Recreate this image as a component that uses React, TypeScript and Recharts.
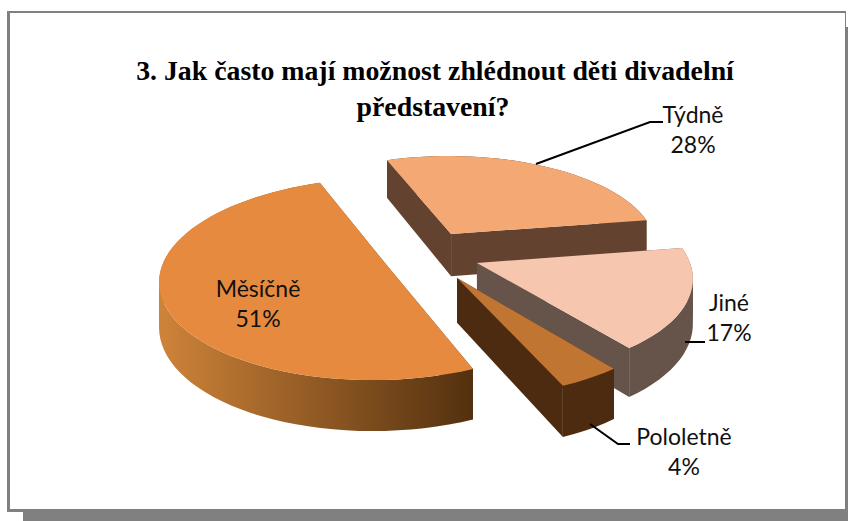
import React from 'react';
import { PieChart, Pie, Cell } from 'recharts';

const CATEGORIES = ['Týdně', 'Jiné', 'Pololetně', 'Měsíčně'];
const SHARES = [28, 17, 4, 51];
const TOP_COLORS = ['#f4a874', '#f6c7ae', '#c07532', '#e58a3f'];
const WALL_COLORS = ['#634330', '#66534a', '#4c2b11', 'url(#monthlyWall)'];

// how far each slice is pulled out of the pie, in radius units
const EXPLODE_X = [0.101, 0.216, 0.122, -0.228];
const EXPLODE_Y = [-0.327, -0.02, 0.129, 0.003];
const RADIUS_SCALE = [0.97, 0.98, 1, 1];
// the big slice has a straight cut in the picture, push its tip onto the chord
const APEX_NUDGE = [0, 0, 0, 0.03];

// label layout: text centre, first line y, then the leader line
const LABEL_X = [693, 729, 684, 258];
const LABEL_Y = [123, 311, 445, 297];
const LEADERS = [
  '536,164 650,122 663,122',
  '685,342 705,342',
  '590,424 618,444 630,444',
  '',
];

const TILT = 0.454;
const PERSPECTIVE = 0.137;
const THICKNESS = 44;

// Pie has no 3D mode, so project the sector angles by hand
const SliceShape = (props: any) => {
  const { cx, cy, outerRadius, startAngle, endAngle, index } = props;
  const project = (wx: number, wy: number, z: number) => {
    const s = 1 / (1 - PERSPECTIVE * wy);
    return [cx + outerRadius * wx * s, cy + (outerRadius * TILT * wy + z) * s];
  };
  const ox = EXPLODE_X[index];
  const oy = EXPLODE_Y[index];
  const r = RADIUS_SCALE[index];
  const arc: [number, number][] = [];
  const steps = Math.max(4, Math.ceil(Math.abs(endAngle - startAngle) / 3));
  for (let i = 0; i <= steps; i++) {
    const deg = startAngle + ((endAngle - startAngle) * i) / steps;
    const rad = (deg * Math.PI) / 180;
    arc.push([ox + r * Math.cos(rad), oy - r * Math.sin(rad)]);
  }
  const str = (pts: number[][]) => pts.map((q) => q.join(',')).join(' ');
  const topArc = arc.map(([x, y]) => project(x, y, 0));
  const lowArc = arc.map(([x, y]) => project(x, y, THICKNESS));
  const apexTop = project(ox + APEX_NUDGE[index], oy, 0);
  const apexLow = project(ox + APEX_NUDGE[index], oy, THICKNESS);
  const wall = WALL_COLORS[index];

  // split the curved wall at the left and right silhouette so no band crosses itself
  const xs = topArc.map((p) => p[0]);
  const cuts = Array.from(new Set([0, xs.indexOf(Math.min(...xs)), xs.indexOf(Math.max(...xs)), steps])).sort((a, b) => a - b);
  const bands = cuts.slice(1).map((end, i) => {
    const a = topArc.slice(cuts[i], end + 1);
    const b = lowArc.slice(cuts[i], end + 1).reverse();
    return str([...a, ...b]);
  });

  return (
    <g>
      <polygon points={str([apexTop, topArc[0], lowArc[0], apexLow])} fill={wall} />
      <polygon points={str([apexTop, topArc[steps], lowArc[steps], apexLow])} fill={wall} />
      {bands.map((pts, i) => (
        <polygon key={i} points={pts} fill={wall} />
      ))}
      <polygon points={str([apexTop, ...topArc])} fill={TOP_COLORS[index]} />
    </g>
  );
};

const SliceLabel = ({ index }: any) => (
  <g>
    {LEADERS[index] && <polyline points={LEADERS[index]} fill="none" stroke="#000" strokeWidth={2} />}
    <text x={LABEL_X[index]} y={LABEL_Y[index]} textAnchor="middle" fontFamily="Lato, sans-serif" fontSize={23} fill="#111">
      {CATEGORIES[index]}
    </text>
    <text x={LABEL_X[index]} y={LABEL_Y[index] + 30} textAnchor="middle" fontFamily="Lato, sans-serif" fontSize={23} fill="#111">
      {SHARES[index]}%
    </text>
  </g>
);

const data = CATEGORIES.map((name, i) => ({ name, value: SHARES[i] }));

export default function App() {
  return (
    <div style={{ position: 'absolute', left: 0, top: 0, width: 848, height: 521, background: '#fff', overflow: 'hidden' }}>
      <div style={{ position: 'absolute', left: 23, top: 27, width: 825, height: 494, background: '#808080' }} />
      <div
        style={{
          position: 'absolute',
          left: 7,
          top: 11,
          width: 835,
          height: 496,
          background: '#fff',
          borderStyle: 'solid',
          borderColor: '#808080',
          borderWidth: '2px 1px 3px 3px',
        }}
      />
      <div style={{ position: 'absolute', left: 0, top: 0 }}>
        <PieChart width={848} height={521} margin={{ top: 0, right: 0, bottom: 0, left: 0 }}>
          <defs>
            <linearGradient id="monthlyWall" gradientUnits="userSpaceOnUse" x1={165} y1={0} x2={473} y2={0}>
              <stop offset="0%" stopColor="#cc8238" />
              <stop offset="100%" stopColor="#53300f" />
            </linearGradient>
          </defs>
          <text x={435} y={80} textAnchor="middle" fontFamily="'Liberation Serif', serif" fontWeight="bold" fontSize={27.8} fill="#000">
            3. Jak často mají možnost zhlédnout děti divadelní
          </text>
          <text x={433} y={116} textAnchor="middle" fontFamily="'Liberation Serif', serif" fontWeight="bold" fontSize={27.8} fill="#000">
            představení?
          </text>
          <Pie
            data={data}
            dataKey="value"
            nameKey="name"
            cx={430}
            cy={265}
            outerRadius={218}
            startAngle={110}
            endAngle={-250}
            stroke="none"
            shape={SliceShape}
            label={SliceLabel}
            labelLine={false}
            isAnimationActive={false}
          >
            {data.map((d, i) => (
              <Cell key={d.name} fill={TOP_COLORS[i]} />
            ))}
          </Pie>
        </PieChart>
      </div>
    </div>
  );
}
